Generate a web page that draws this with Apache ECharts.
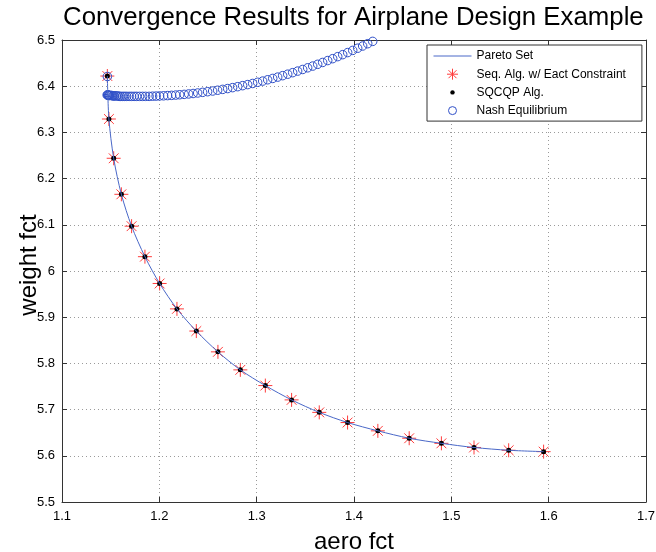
<!DOCTYPE html>
<html><head><meta charset="utf-8">
<script src="https://cdn.jsdelivr.net/npm/echarts@6/dist/echarts.min.js"></script>
<style>html,body{margin:0;padding:0;background:#fff}#c{width:656px;height:552px}</style>
</head><body><div id="c"></div>
<script>
// ---- data ----
const xTickLabels = ['1.1','1.2','1.3','1.4','1.5','1.6','1.7'];
const yTickLabels = ['5.5','5.6','5.7','5.8','5.9','6','6.1','6.2','6.3','6.4','6.5'];

const paretoX = [1.1466,1.1482,1.1531,1.1610,1.1715,1.1852,1.2003,1.2181,1.2380,1.2602,1.2832,1.3089,1.3359,1.3643,1.3934,1.4245,1.4567,1.4898,1.5233,1.5589,1.5948];
const paretoY = [6.422,6.329,6.244,6.166,6.097,6.031,5.973,5.918,5.870,5.825,5.786,5.752,5.721,5.694,5.672,5.654,5.638,5.627,5.618,5.612,5.609];

const seqX = [1.1466,1.1482,1.1531,1.1610,1.1715,1.1852,1.2003,1.2181,1.2380,1.2602,1.2832,1.3089,1.3359,1.3643,1.3934,1.4245,1.4567,1.4898,1.5233,1.5589,1.5948];
const seqY = [6.422,6.329,6.244,6.166,6.097,6.031,5.973,5.918,5.870,5.825,5.786,5.752,5.721,5.694,5.672,5.654,5.638,5.627,5.618,5.612,5.609];

const sqcqpX = [1.1466,1.1482,1.1531,1.1610,1.1715,1.1852,1.2003,1.2181,1.2380,1.2602,1.2832,1.3089,1.3359,1.3643,1.3934,1.4245,1.4567,1.4898,1.5233,1.5589,1.5948];
const sqcqpY = [6.422,6.329,6.244,6.166,6.097,6.031,5.973,5.918,5.870,5.825,5.786,5.752,5.721,5.694,5.672,5.654,5.638,5.627,5.618,5.612,5.609];

const nashX = [1.1466,1.1464,1.1469,1.1474,1.1479,1.1484,1.1489,1.1499,1.1510,1.1520,1.1530,1.1540,1.1556,1.1571,1.1587,1.1602,1.1623,1.1643,1.1664,1.1690,1.1715,1.1741,1.1767,1.1797,1.1828,1.1859,1.1895,1.1931,1.1967,1.2003,1.2044,1.2085,1.2126,1.2168,1.2209,1.2255,1.2301,1.2347,1.2394,1.2445,1.2496,1.2548,1.2599,1.2651,1.2702,1.2753,1.2805,1.2856,1.2908,1.2959,1.3010,1.3062,1.3113,1.3165,1.3216,1.3267,1.3319,1.3370,1.3421,1.3473,1.3524,1.3576,1.3627,1.3678,1.3730,1.3781,1.3833,1.3884,1.3935,1.3987,1.4038,1.4089,1.4141,1.4192];
const nashY = [6.421,6.381,6.381,6.381,6.380,6.380,6.380,6.380,6.380,6.379,6.379,6.379,6.379,6.379,6.378,6.378,6.378,6.378,6.378,6.378,6.378,6.378,6.378,6.378,6.378,6.378,6.378,6.3784,6.3786,6.3789,6.3792,6.3797,6.3802,6.3808,6.3815,6.3823,6.3832,6.3842,6.3853,6.3867,6.3881,6.3896,6.3913,6.3931,6.3949,6.3969,6.3990,6.4012,6.4035,6.4059,6.4085,6.4111,6.4139,6.4168,6.4197,6.4228,6.4260,6.4293,6.4327,6.4362,6.4398,6.4436,6.4474,6.4514,6.4555,6.4596,6.4640,6.4683,6.4728,6.4775,6.4822,6.4870,6.4920,6.4970];

const seriesNames = ['Pareto Set','Seq. Alg. w/ Eact Constraint','SQCQP Alg.','Nash Equilibrium'];
// ---- end data ----

const zip = (a, b) => a.map((v, i) => [v, b[i]]);
const FONT = 'Liberation Sans, Arial, Helvetica, sans-serif';
const starSym = 'path://M0,10L20,10M10,0L10,20M3,3L17,17M3,17L17,3';
const lineIcon = 'path://M0,0M38,12M0,6.5L38,6.5';
const starIcon = 'path://M0,0M38,12M13.5,6L24.5,6M19,0.5L19,11.5M15,2L23,10M15,10L23,2';
const dotIcon = 'path://M0,0M38,12M16.8,6A2.2,2.2,0,1,1,21.2,6A2.2,2.2,0,1,1,16.8,6Z';
const circIcon = 'path://M0,0M38,12M15,6A4,4,0,1,1,23,6A4,4,0,1,1,15,6Z';

const LINE_C = '#4a68c8', STAR_C = '#ff3c3c', NASH_C = '#3050c8';
const axisLineStyle = { color: '#333', width: 1 };
const gridLine = { show: true, lineStyle: { color: '#9a9a9a', type: [1, 3], width: 1 } };

const chart = echarts.init(document.getElementById('c'), null, { renderer: 'canvas' });
chart.setOption({
  animation: false,
  backgroundColor: '#fff',
  title: {
    text: 'Convergence Results for Airplane Design Example',
    left: 63, top: 5, padding: 0,
    textStyle: { fontFamily: FONT, fontSize: 25.8, fontWeight: 'normal', color: '#000' }
  },
  legend: {
    orient: 'vertical',
    left: 427, top: 45,
    padding: [4, 16, 4, 6],
    itemGap: 5.7,
    itemWidth: 38, itemHeight: 12,
    backgroundColor: '#fff',
    borderColor: '#333', borderWidth: 1, borderRadius: 0,
    selectedMode: false,
    textStyle: { fontFamily: FONT, fontSize: 12, color: '#000' },
    data: [
      { name: seriesNames[0], icon: lineIcon, itemStyle: { color: 'rgba(0,0,0,0)', borderColor: LINE_C, borderWidth: 1 } },
      { name: seriesNames[1], icon: starIcon, itemStyle: { color: 'rgba(0,0,0,0)', borderColor: STAR_C, borderWidth: 1 } },
      { name: seriesNames[2], icon: dotIcon, itemStyle: { color: '#000', borderWidth: 0 } },
      { name: seriesNames[3], icon: circIcon, itemStyle: { color: 'rgba(0,0,0,0)', borderColor: NASH_C, borderWidth: 1 } }
    ]
  },
  grid: { left: 62, right: 10, top: 40, bottom: 50, containLabel: false, outerBoundsMode: 'none' },
  xAxis: [{
    type: 'value', min: 1.1, max: 1.7, interval: 0.1, position: 'bottom',
    name: 'aero fct', nameLocation: 'middle', nameGap: 28, nameMoveOverlap: false,
    nameTextStyle: { fontFamily: FONT, fontSize: 24, color: '#000' },
    axisLine: { show: true, onZero: false, lineStyle: axisLineStyle },
    axisTick: { show: true, inside: true, length: 5, lineStyle: axisLineStyle },
    axisLabel: { show: true, margin: 8, fontFamily: FONT, fontSize: 13, color: '#000',
      formatter: v => xTickLabels[Math.round((v - 1.1) * 10)] },
    splitLine: gridLine
  }, {
    type: 'value', min: 1.1, max: 1.7, interval: 0.1, position: 'top',
    axisLine: { show: true, onZero: false, lineStyle: axisLineStyle },
    axisTick: { show: true, inside: true, length: 5, lineStyle: axisLineStyle },
    axisLabel: { show: false }, splitLine: { show: false }
  }],
  yAxis: [{
    type: 'value', min: 5.5, max: 6.5, interval: 0.1, position: 'left',
    name: 'weight fct', nameLocation: 'middle', nameGap: 21, nameMoveOverlap: false,
    nameTextStyle: { fontFamily: FONT, fontSize: 24, color: '#000', padding: [0, 0, 0, 12] },
    axisLine: { show: true, onZero: false, lineStyle: axisLineStyle },
    axisTick: { show: true, inside: true, length: 5, lineStyle: axisLineStyle },
    axisLabel: { show: true, margin: 7, fontFamily: FONT, fontSize: 13, color: '#000',
      formatter: v => yTickLabels[Math.round((v - 5.5) * 10)] },
    splitLine: gridLine
  }, {
    type: 'value', min: 5.5, max: 6.5, interval: 0.1, position: 'right',
    axisLine: { show: true, onZero: false, lineStyle: axisLineStyle },
    axisTick: { show: true, inside: true, length: 5, lineStyle: axisLineStyle },
    axisLabel: { show: false }, splitLine: { show: false }
  }],
  series: [
    {
      name: seriesNames[0], type: 'line', data: zip(paretoX, paretoY),
      symbol: 'none', smooth: 0.3, silent: true,
      lineStyle: { color: LINE_C, width: 1 }, itemStyle: { color: LINE_C }
    },
    {
      name: seriesNames[1], type: 'scatter', data: zip(seqX, seqY),
      symbol: starSym, symbolSize: 14, silent: true,
      itemStyle: { color: 'rgba(0,0,0,0)', borderColor: STAR_C, borderWidth: 1, opacity: 1 }
    },
    {
      name: seriesNames[2], type: 'scatter', data: zip(sqcqpX, sqcqpY),
      symbol: 'circle', symbolSize: 5, silent: true,
      itemStyle: { color: '#000', opacity: 1 }
    },
    {
      name: seriesNames[3], type: 'scatter', data: zip(nashX, nashY),
      symbol: 'circle', symbolSize: 8.5, silent: true,
      itemStyle: { color: 'rgba(0,0,0,0)', borderColor: NASH_C, borderWidth: 1, opacity: 1 }
    }
  ]
});
</script>
</body></html>
